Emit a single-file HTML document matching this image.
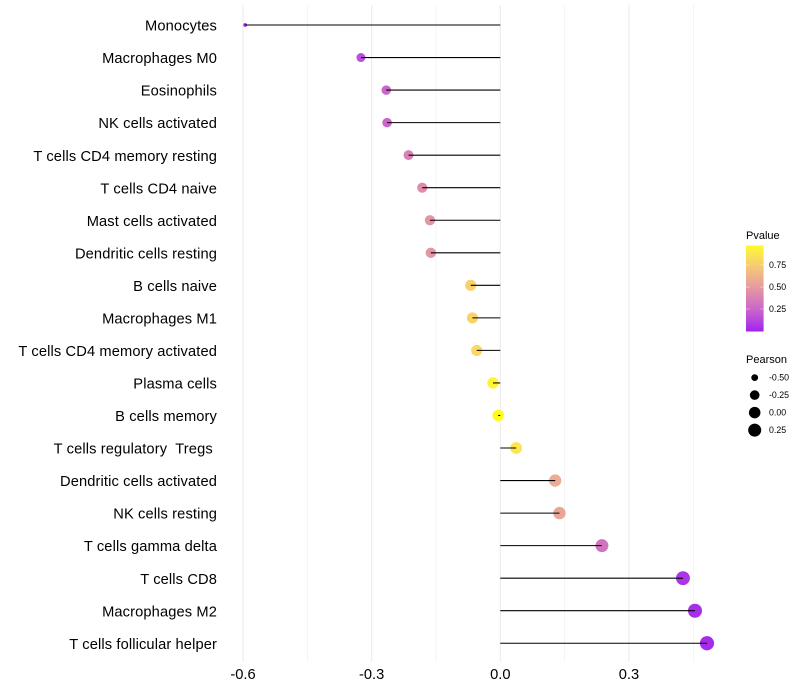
<!DOCTYPE html>
<html lang="en">
<head>
<meta charset="utf-8">
<title>Immune cell correlation lollipop chart</title>
<style>
html,body{margin:0;padding:0;background:#fff;}
#chart{display:block;width:800px;height:700px;font-family:"Liberation Sans",Arial,sans-serif;}
</style>
</head>
<body>
<svg id="chart" xmlns="http://www.w3.org/2000/svg" width="800" height="700" viewBox="0 0 800 700">
  <rect width="800" height="700" fill="#ffffff"/>
  <defs>
    <linearGradient id="pvalue-gradient" x1="0" y1="1" x2="0" y2="0"></linearGradient>
  </defs>
  <g id="grid"></g>
  <g id="marks"></g>
  <g id="ylabels"></g>
  <g id="xlabels"></g>
  <g id="legend-color"></g>
  <g id="legend-size"></g>
</svg>
<script>
const categories = ["Monocytes","Macrophages M0","Eosinophils","NK cells activated","T cells CD4 memory resting","T cells CD4 naive","Mast cells activated","Dendritic cells resting","B cells naive","Macrophages M1","T cells CD4 memory activated","Plasma cells","B cells memory","T cells regulatory  Tregs ","Dendritic cells activated","NK cells resting","T cells gamma delta","T cells CD8","Macrophages M2","T cells follicular helper"];
const pearson = [-0.595,-0.325,-0.266,-0.264,-0.214,-0.182,-0.164,-0.162,-0.069,-0.065,-0.055,-0.017,-0.005,0.037,0.128,0.138,0.237,0.426,0.454,0.482];
const pvalue = [0.005,0.15,0.25,0.25,0.37,0.43,0.47,0.48,0.77,0.78,0.81,0.94,0.98,0.87,0.58,0.55,0.31,0.06,0.04,0.03];
const xTicks = [-0.6,-0.3,0.0,0.3];
const xMinorTicks = [-0.45,-0.15,0.15,0.45];
const xTickLabels = ["-0.6","-0.3","0.0","0.3"];
const pvalueBreaks = [0.25,0.50,0.75];
const pvalueBreakLabels = ["0.25","0.50","0.75"];
const pearsonBreaks = [-0.50,-0.25,0.00,0.25];
const pearsonBreakLabels = ["-0.50","-0.25","0.00","0.25"];

const NS = "http://www.w3.org/2000/svg";
const PANEL_TOP = 5, PANEL_BOTTOM = 662;
function x(v){ return 500.3 + v * 428.8; }
function y(i){ return 25 + i * 32.54; }
function pearsonExtent(){ return [Math.min.apply(null, pearson), Math.max.apply(null, pearson)]; }
function radius(v){
  const e = pearsonExtent();
  const t = Math.max(0, Math.min(1, (v - e[0]) / (e[1] - e[0])));
  return 1.85 + (7.1 - 1.85) * Math.sqrt(t);
}
function rgb2lab(c){
  const f = c.map(function(u){ u /= 255; return u <= 0.04045 ? u / 12.92 : Math.pow((u + 0.055) / 1.055, 2.4); });
  const X = (0.4124 * f[0] + 0.3576 * f[1] + 0.1805 * f[2]) / 0.95047;
  const Y = 0.2126 * f[0] + 0.7152 * f[1] + 0.0722 * f[2];
  const Z = (0.0193 * f[0] + 0.1192 * f[1] + 0.9505 * f[2]) / 1.08883;
  const g = function(t){ return t > 0.008856 ? Math.cbrt(t) : 7.787 * t + 16 / 116; };
  return [116 * g(Y) - 16, 500 * (g(X) - g(Y)), 200 * (g(Y) - g(Z))];
}
function lab2rgb(l){
  const fy = (l[0] + 16) / 116, fx = fy + l[1] / 500, fz = fy - l[2] / 200;
  const h = function(t){ return t * t * t > 0.008856 ? t * t * t : (t - 16 / 116) / 7.787; };
  const X = 0.95047 * h(fx), Y = h(fy), Z = 1.08883 * h(fz);
  const lin = [3.2406 * X - 1.5372 * Y - 0.4986 * Z, -0.9689 * X + 1.8758 * Y + 0.0415 * Z, 0.0557 * X - 0.2040 * Y + 1.0570 * Z];
  return "rgb(" + lin.map(function(u){
    u = Math.max(0, Math.min(1, u));
    const s = u <= 0.0031308 ? 12.92 * u : 1.055 * Math.pow(u, 1 / 2.4) - 0.055;
    return Math.round(s * 255);
  }).join(",") + ")";
}
const labLow = rgb2lab([160,32,240]);
const labHigh = rgb2lab([255,255,0]);
function color(p){
  const t = Math.max(0, Math.min(1, p));
  return lab2rgb([0,1,2].map(function(k){ return labLow[k] + (labHigh[k] - labLow[k]) * t; }));
}
function make(tag, attrs, parent){
  const el = document.createElementNS(NS, tag);
  Object.keys(attrs).forEach(function(k){ el.setAttribute(k, attrs[k]); });
  parent.appendChild(el);
  return el;
}

const grid = document.getElementById("grid");
xMinorTicks.forEach(function(v){
  const el = make("line", {x1:x(v), x2:x(v), y1:PANEL_TOP, y2:PANEL_BOTTOM, stroke:"#ebebeb", "stroke-width":0.53}, grid);
  
  
});
xTicks.forEach(function(v){
  const el = make("line", {x1:x(v), x2:x(v), y1:PANEL_TOP, y2:PANEL_BOTTOM, stroke:"#ebebeb", "stroke-width":1.07}, grid);
  
  
});

const marks = document.getElementById("marks");
categories.forEach(function(c, i){
  const dot = make("circle", {cx:x(pearson[i]), cy:y(i), r:radius(pearson[i]), fill:color(pvalue[i])}, marks);
  
  
});
categories.forEach(function(c, i){
  const seg = make("line", {x1:x(0), x2:x(pearson[i]), y1:y(i), y2:y(i), stroke:"#000000", "stroke-width":1.07}, marks);
  
  
});

const ylabels = document.getElementById("ylabels");
categories.forEach(function(c, i){
  const t = make("text", {x:217, y:y(i) + 5.6, "text-anchor":"end", "font-size":14.67, "letter-spacing":0.12, fill:"#000000"}, ylabels);
  t.setAttribute('xml:space', 'preserve');
  t.style.whiteSpace = "pre";
  t.textContent = c;
  
  
});

const xlabels = document.getElementById("xlabels");
xTicks.forEach(function(v, i){
  const t = make("text", {x:x(v), y:679, "text-anchor":"middle", "font-size":14.67, fill:"#000000"}, xlabels);
  t.textContent = xTickLabels[i];
  
  
});

/* Pvalue colour bar */
const BAR_X = 746, BAR_W = 17.6, BAR_TOP = 245.5, BAR_BOTTOM = 331.5;
function barY(p){ return 287 - (p - 0.5) * 88; }
const pLow = (287 - BAR_BOTTOM) / 88 + 0.5, pHigh = (287 - BAR_TOP) / 88 + 0.5;
const grad = document.getElementById("pvalue-gradient");
for (let s = 0; s <= 20; s++) {
  const stop = make("stop", {offset:(s / 20), "stop-color":color(pLow + (pHigh - pLow) * s / 20)}, grad);
}
const lc = document.getElementById("legend-color");
const pTitle = make("text", {x:746, y:239, "font-size":11, fill:"#000000"}, lc);
pTitle.textContent = "Pvalue";


const bar = make("rect", {x:BAR_X, y:BAR_TOP, width:BAR_W, height:BAR_BOTTOM - BAR_TOP, fill:"url(#pvalue-gradient)"}, lc);


pvalueBreaks.forEach(function(p, i){
  const yy = barY(p);
  const a = make("line", {x1:BAR_X, x2:BAR_X + 3.5, y1:yy, y2:yy, stroke:"#ffffff", "stroke-width":0.5, "stroke-opacity":0.8}, lc);
  
  
  const b = make("line", {x1:BAR_X + BAR_W - 3.5, x2:BAR_X + BAR_W, y1:yy, y2:yy, stroke:"#ffffff", "stroke-width":0.5, "stroke-opacity":0.8}, lc);
  
  
  const t = make("text", {x:769, y:yy + 3, "font-size":8.8, fill:"#000000"}, lc);
  t.textContent = pvalueBreakLabels[i];
  
  
});

/* Pearson size legend */
const ls = document.getElementById("legend-size");
const sTitle = make("text", {x:746, y:363, "font-size":11, fill:"#000000"}, ls);
sTitle.textContent = "Pearson";


pearsonBreaks.forEach(function(v, i){
  const yy = 377.6 + i * 17.5;
  const d = make("circle", {cx:754.7, cy:yy, r:radius(v), fill:"#000000"}, ls);
  
  
  const t = make("text", {x:769, y:yy + 3, "font-size":8.8, fill:"#000000"}, ls);
  t.textContent = pearsonBreakLabels[i];
  
  
});
</script>
</body>
</html>
